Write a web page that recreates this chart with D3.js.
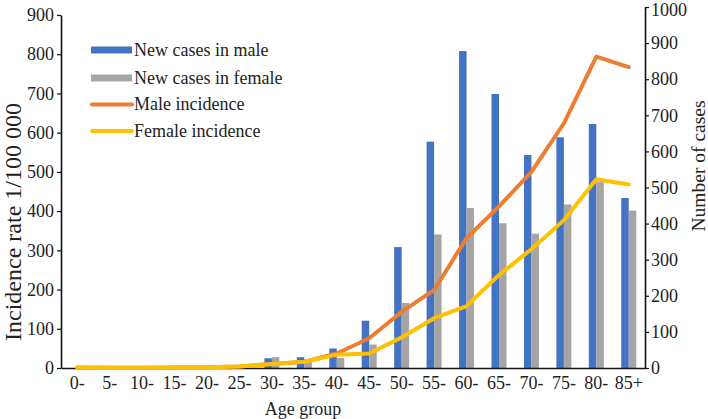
<!DOCTYPE html>
<html>
<head>
<meta charset="utf-8">
<script src="https://cdn.jsdelivr.net/npm/d3@7"></script>
<style>
  html, body { margin: 0; padding: 0; background: #fff; }
  svg { display: block; font-family: "Liberation Serif", "Times New Roman", serif; }
</style>
</head>
<body>
<svg id="chart" width="708" height="419"></svg>
<script>
const ageGroups = ["0-","5-","10-","15-","20-","25-","30-","35-","40-","45-","50-","55-","60-","65-","70-","75-","80-","85+"];
const maleCases = [0, 0, 0, 0, 1, 4, 27, 30, 54, 131, 335, 627, 878, 759, 590, 639, 676, 471];
const femaleCases = [0, 0, 0, 0, 1, 10, 30, 24, 28, 65, 180, 370, 443, 401, 372, 453, 515, 436];
const maleIncidence = [1, 0.5, 0.5, 1, 2, 4, 10, 16, 37, 76, 143, 199, 331, 412, 500, 624, 794, 767];
const femaleIncidence = [1, 0.5, 0.5, 1, 2, 4, 10, 16, 34, 37, 78, 127, 158, 237, 303, 377, 481, 468];
const leftTicks = [0,100,200,300,400,500,600,700,800,900];
const rightTicks = [0,100,200,300,400,500,600,700,800,900,1000];
const legendItems = [
  {label: "New cases in male", type: "bar", color: "#4472C4"},
  {label: "New cases in female", type: "bar", color: "#A5A5A5"},
  {label: "Male incidence", type: "line", color: "#ED7D31"},
  {label: "Female incidence", type: "line", color: "#FFC000"}
];

const svg = d3.select("#chart");
const plotL = 61, plotR = 645, plotB = 368;
const txt = "#222";

const x0 = d3.scaleBand().domain(ageGroups).range([plotL, plotR]).paddingInner(0).paddingOuter(0);
const pairW = 15;
const x1 = d3.scaleBand().domain(["male","female"]).range([0, pairW]);
const yL = d3.scaleLinear().domain([0, 900]).range([plotB, 15]);
const yR = d3.scaleLinear().domain([0, 1000]).range([plotB, 7]);
const cx = d => x0(d) + x0.bandwidth() / 2;

// Bars
const barData = ageGroups.map((g, i) => ({g, male: maleCases[i], female: femaleCases[i]}));
const groups = svg.append("g").selectAll("g").data(barData).join("g")
  .attr("transform", d => `translate(${cx(d.g) - pairW / 2},0)`);
groups.append("rect").attr("x", x1("male")).attr("width", x1.bandwidth())
  .attr("y", d => yR(d.male)).attr("height", d => plotB - yR(d.male)).attr("fill", "#4472C4");
groups.append("rect").attr("x", x1("female")).attr("width", x1.bandwidth())
  .attr("y", d => yR(d.female)).attr("height", d => plotB - yR(d.female)).attr("fill", "#A5A5A5");

// Axes
const axL = svg.append("g").attr("transform", `translate(${plotL},0)`)
  .call(d3.axisLeft(yL).tickValues(leftTicks).tickFormat(d3.format("d")).tickSize(4).tickPadding(3).tickSizeOuter(0));
const axR = svg.append("g").attr("transform", `translate(${plotR},0)`)
  .call(d3.axisRight(yR).tickValues(rightTicks).tickFormat(d3.format("d")).tickSize(4).tickPadding(2).tickSizeOuter(0));
const axB = svg.append("g").attr("transform", `translate(0,${plotB})`)
  .call(d3.axisBottom(x0).tickSize(0).tickPadding(8).tickSizeOuter(0));
[axL, axR, axB].forEach(a => {
  a.selectAll("path.domain").attr("stroke", "#111").attr("stroke-width", 1.6);
  a.selectAll(".tick line").attr("stroke", "#111").attr("stroke-width", 1.2);
  a.selectAll("text").attr("fill", txt).style("font-size", "18px")
    .style("font-family", '"Liberation Serif", "Times New Roman", serif');
});
// keep the top label fully inside the picture
axR.selectAll(".tick text").filter(d => d === 1000).attr("dy", "0.45em");

// Lines
const lineL = d3.line().x((d, i) => cx(ageGroups[i])).y(d => yL(d));
svg.append("path").datum(maleIncidence).attr("d", lineL)
  .attr("fill", "none").attr("stroke", "#ED7D31").attr("stroke-width", 4).attr("stroke-linejoin", "round").attr("stroke-linecap", "round");
svg.append("path").datum(femaleIncidence).attr("d", lineL)
  .attr("fill", "none").attr("stroke", "#FFC000").attr("stroke-width", 4).attr("stroke-linejoin", "round").attr("stroke-linecap", "round");

// Axis titles
svg.append("text").attr("transform", "translate(21,222) rotate(-90)")
  .attr("text-anchor", "middle").attr("fill", txt).style("font-size", "24px")
  .text("Incidence rate 1/100 000");
svg.append("text").attr("transform", "translate(705,166) rotate(-90)")
  .attr("text-anchor", "middle").attr("fill", txt).style("font-size", "19.5px")
  .text("Number of cases");
svg.append("text").attr("x", 303).attr("y", 415)
  .attr("text-anchor", "middle").attr("fill", txt).style("font-size", "18px")
  .text("Age group");

// Legend
const legY = [50, 78, 104.5, 131];
const leg = svg.append("g").selectAll("g").data(legendItems).join("g")
  .attr("transform", (d, i) => `translate(0,${legY[i]})`);
leg.filter(d => d.type === "bar").append("rect")
  .attr("x", 91).attr("y", -3.5).attr("width", 41).attr("height", 7).attr("fill", d => d.color);
leg.filter(d => d.type === "line").append("line")
  .attr("x1", 92).attr("x2", 132).attr("y1", 0).attr("y2", 0)
  .attr("stroke", d => d.color).attr("stroke-width", 4).attr("stroke-linecap", "round");
leg.append("text").attr("x", 134).attr("y", 0).attr("dy", "0.33em")
  .attr("fill", txt).style("font-size", "18px").text(d => d.label);
</script>
</body>
</html>
